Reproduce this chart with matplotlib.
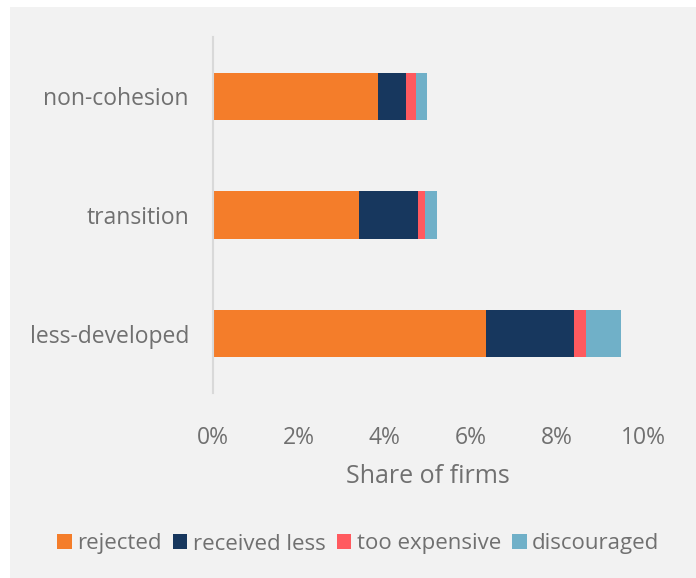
import matplotlib
matplotlib.use("Agg")
import matplotlib.pyplot as plt
from matplotlib.patches import Rectangle

plt.rcParams['font.family'] = ['Open Sans', 'DejaVu Sans']

regions = ['less-developed', 'transition', 'non-cohesion']
series = ['rejected', 'received less', 'too expensive', 'discouraged']
rejected = [6.35, 3.40, 3.83]
received_less = [2.03, 1.36, 0.67]
too_expensive = [0.28, 0.16, 0.22]
discouraged = [0.82, 0.29, 0.26]
colors = ['#f47d2a', '#17375e', '#ff5a5f', '#70b0c8']

text_col = '#707070'

fig = plt.figure(figsize=(6.96, 5.78), dpi=100)
fig.patch.set_facecolor('white')
fig.patches.append(Rectangle((10 / 696, 0), 1, 1 - 7 / 578, transform=fig.transFigure,
                             facecolor='#f2f2f2', edgecolor='none', zorder=-1))

ax = fig.add_axes([212.5 / 696, 1 - 393 / 578, (643.5 - 212.5) / 696, (393 - 37) / 578])
ax.set_facecolor('none')

left = [0.0] * len(regions)
for name, vals, c in zip(series, [rejected, received_less, too_expensive, discouraged], colors):
    ax.barh(regions, vals, left=left, height=0.4, color=c, label=name)
    left = [l + v for l, v in zip(left, vals)]

ax.set_xlim(0, 10)
ax.set_ylim(-0.5, 2.5)
ax.set_xticks(range(0, 11, 2))
ax.set_xticklabels([f'{t}%' for t in range(0, 11, 2)])
for s in ['top', 'right', 'bottom']:
    ax.spines[s].set_visible(False)
ax.spines['left'].set_color('#d9d9d9')
ax.spines['left'].set_linewidth(1.5)
ax.tick_params(length=0, labelsize=16.5, colors=text_col)
ax.tick_params(axis='x', pad=24)
ax.tick_params(axis='y', pad=17)
ax.set_xlabel('Share of firms', fontsize=18, color=text_col, labelpad=10)

ax.legend(loc='center', bbox_to_anchor=(0.515, 34 / 578), bbox_transform=fig.transFigure,
          ncol=4, frameon=False, fontsize=16, labelcolor=text_col, handlelength=0.65,
          handleheight=0.65, handletextpad=0.25, columnspacing=0.5)

fig.savefig('out.png', dpi=100, facecolor=fig.get_facecolor())
